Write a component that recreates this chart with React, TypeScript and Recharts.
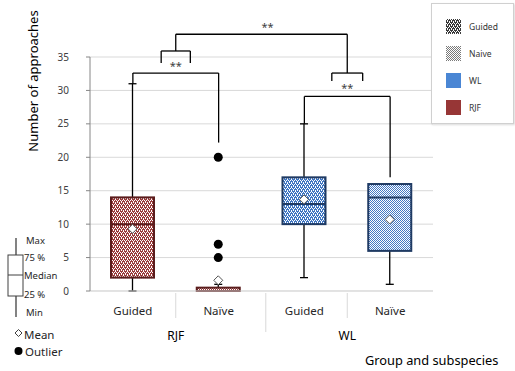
import React from "react";
import {
  ComposedChart,
  Bar,
  XAxis,
  YAxis,
  CartesianGrid,
  ReferenceLine,
  ReferenceDot,
} from "recharts";

// box plot statistics per group (RJF Guided, RJF Naive, WL Guided, WL Naive)
const categories = ["Guided", "Naïve", "Guided", "Naïve"];
const subspecies = ["RJF", "RJF", "WL", "WL"];
const mins = [0, 0, 2, 1];
const q1s = [2, 0, 10, 6];
const medians = [10, 0, 13, 14];
const q3s = [14, 0.5, 17, 16];
const maxs = [31, 1, 25, 16];
const means = [9.3, 1.6, 13.7, 10.7];
const outliers = [[], [20, 7, 5], [], []];
const yTicks = [0, 5, 10, 15, 20, 25, 30, 35];
const groupTicks = [1, 2.05, 3];
const groupLabels: Record<number, string> = { 1: "RJF", 3: "WL" };

// significance brackets (x on the 0..4 group axis, y in approaches)
const brackets = [
  [0.5, 31, 0.5, 32.6], [0.5, 32.6, 1.5, 32.6], [1.5, 32.6, 1.5, 22.2],
  [2.5, 25, 2.5, 29.1], [2.5, 29.1, 3.5, 29.1], [3.5, 29.1, 3.5, 17],
  [0.83, 34.1, 0.83, 35.9], [0.83, 35.9, 1.17, 35.9], [1.17, 35.9, 1.17, 34.1],
  [2.82, 31.4, 2.82, 32.6], [2.82, 32.6, 3.18, 32.6], [3.18, 32.6, 3.18, 31.4],
  [1, 35.9, 1, 38.4], [1, 38.4, 3, 38.4], [3, 38.4, 3, 32.6],
];
const stars = [[1, 33.6], [3, 30.3], [2.07, 39.4]];

const data = categories.map((c, i) => ({
  key: subspecies[i] + " " + c,
  label: c,
  pos: i + 0.5,
  min: mins[i],
  q1: q1s[i],
  median: medians[i],
  q3: q3s[i],
  max: maxs[i],
  mean: means[i],
  outliers: outliers[i],
  fill: (subspecies[i] === "RJF" ? "rjf" : "wl") + (c === "Guided" ? "G" : "N"),
  stroke: subspecies[i] === "RJF" ? "#5a1c1c" : "#1f3a63",
}));

const labelByKey: Record<string, string> = {};
data.forEach((d) => (labelByKey[d.key] = d.label));

function BoxShape(props: any) {
  const { x, y, width, height, payload } = props;
  const top = Math.min(y, y + height);
  const bottom = Math.max(y, y + height);
  const span = payload.max - payload.min;
  const py = (v: number) => bottom - ((v - payload.min) / span) * (bottom - top);
  const cx = x + width / 2;
  const m = py(payload.mean);
  return (
    <g>
      <line x1={cx} x2={cx} y1={py(payload.max)} y2={py(payload.q3)} stroke="#000" strokeWidth={1.3} />
      <line x1={cx} x2={cx} y1={py(payload.q1)} y2={py(payload.min)} stroke="#000" strokeWidth={1.3} />
      <line x1={cx - 4} x2={cx + 4} y1={py(payload.max)} y2={py(payload.max)} stroke="#000" strokeWidth={1.3} />
      <line x1={cx - 4} x2={cx + 4} y1={py(payload.min)} y2={py(payload.min)} stroke="#000" strokeWidth={1.3} />
      <rect
        x={x}
        y={py(payload.q3)}
        width={width}
        height={py(payload.q1) - py(payload.q3)}
        fill={`url(#${payload.fill})`}
        stroke={payload.stroke}
        strokeWidth={2}
      />
      <line x1={x} x2={x + width} y1={py(payload.median)} y2={py(payload.median)} stroke={payload.stroke} strokeWidth={2} />
      <path d={`M${cx},${m - 4.5} L${cx + 4.5},${m} L${cx},${m + 4.5} L${cx - 4.5},${m} Z`} fill="#fff" stroke="#555" strokeWidth={1} />
      {payload.outliers.map((o: number, i: number) => (
        <circle key={i} cx={cx} cy={py(o)} r={4.5} fill="#000" />
      ))}
    </g>
  );
}

function CategoryTick(props: any) {
  const { x, y, payload } = props;
  return (
    <text x={x} y={y + 19.5} textAnchor="middle" dominantBaseline="central" fontSize={11.5} fill="#262626">
      {labelByKey[payload.value]}
    </text>
  );
}

function GroupTick(props: any) {
  const { x, y, payload } = props;
  const v = payload.value;
  if (!groupLabels[v]) {
    return <line x1={x} x2={x} y1={y - 28} y2={y + 11} stroke="#d9d9d9" />;
  }
  return (
    <g>
      <line x1={x} x2={x} y1={y - 28} y2={y - 3} stroke="#d9d9d9" />
      <text x={x} y={y + 14.5} textAnchor="middle" dominantBaseline="central" fontSize={12} fill="#000">
        {groupLabels[v]}
      </text>
    </g>
  );
}

function Checker({ id, color, light }: { id: string; color: string; light: boolean }) {
  return light ? (
    <pattern id={id} width={2} height={2} patternUnits="userSpaceOnUse">
      <rect width={2} height={2} fill="#fff" />
      <rect x={0} y={0} width={1} height={1} fill={color} />
      <rect x={1} y={1} width={1} height={1} fill={color} />
    </pattern>
  ) : (
    <pattern id={id} width={4} height={4} patternUnits="userSpaceOnUse">
      <rect width={4} height={4} fill={color} />
      <rect x={0} y={0} width={1} height={1} fill="#fff" />
      <rect x={2} y={0} width={1} height={1} fill="#fff" />
      <rect x={1} y={2} width={1} height={1} fill="#fff" />
      <rect x={3} y={2} width={1} height={1} fill="#fff" />
      <rect x={1} y={1} width={1} height={1} fill="#fff" />
      <rect x={3} y={3} width={1} height={1} fill="#fff" />
    </pattern>
  );
}

const font = "'Noto Sans', sans-serif";

export default function App() {
  return (
    <div style={{ position: "absolute", left: 0, top: 0, width: 515, height: 371, background: "#fff", fontFamily: font }}>
      <svg width={0} height={0} style={{ position: "absolute" }}>
        <defs>
          <Checker id="rjfG" color="#9a3c3c" light={false} />
          <Checker id="rjfN" color="#9a3c3c" light={true} />
          <Checker id="wlG" color="#3f76c2" light={false} />
          <Checker id="wlN" color="#4479c4" light={true} />
          <Checker id="legG" color="#3a3a3a" light={false} />
          <Checker id="legN" color="#7a7a7a" light={true} />
        </defs>
      </svg>

      <ComposedChart
        width={515}
        height={371}
        data={data}
        margin={{ top: 57, right: 82, bottom: 20, left: 30 }}
        style={{ fontFamily: font }}
      >
        <CartesianGrid vertical={false} stroke="#d9d9d9" />
        <XAxis
          xAxisId="cat"
          dataKey="key"
          type="category"
          height={30}
          axisLine={{ stroke: "#d9d9d9" }}
          tickLine={false}
          tickSize={0}
          tickMargin={0}
          tick={<CategoryTick />}
          interval={0}
        />
        <XAxis
          xAxisId="grp"
          dataKey="pos"
          type="number"
          domain={[0, 4]}
          allowDataOverflow
          ticks={groupTicks}
          height={30}
          axisLine={false}
          tickLine={false}
          tickSize={0}
          tickMargin={0}
          tick={<GroupTick />}
          interval={0}
        />
        <YAxis
          domain={[0, 35]}
          ticks={yTicks}
          width={60}
          axisLine={{ stroke: "#868686" }}
          tickLine={{ stroke: "#868686" }}
          tickSize={4}
          tickMargin={17}
          tick={{ fontSize: 10, fill: "#404040" }}
          interval={0}
        />
        <Bar
          xAxisId="cat"
          dataKey={(d: any) => [d.min, d.max]}
          barSize={43}
          shape={<BoxShape />}
          isAnimationActive={false}
        />
        {brackets.map((b, i) => (
          <ReferenceLine
            key={i}
            xAxisId="grp"
            segment={[{ x: b[0], y: b[1] }, { x: b[2], y: b[3] }]}
            stroke="#000"
            strokeWidth={1.3}
            ifOverflow="visible"
          />
        ))}
        {stars.map((s, i) => (
          <ReferenceDot
            key={i}
            xAxisId="grp"
            x={s[0]}
            y={s[1]}
            r={1}
            fill="none"
            stroke="none"
            ifOverflow="visible"
            label={{ value: "**", position: "center", fontSize: 11, fill: "#404040" }}
          />
        ))}
      </ComposedChart>

      <div
        style={{
          position: "absolute",
          left: 33,
          top: 81,
          transform: "translate(-50%, -50%) rotate(-90deg)",
          whiteSpace: "nowrap",
          fontSize: 13,
          color: "#000",
        }}
      >
        Number of approaches
      </div>

      <div
        style={{
          position: "absolute",
          left: 365,
          top: 351,
          fontSize: 12.8,
          color: "#000",
          whiteSpace: "nowrap",
        }}
      >
        Group and subspecies
      </div>

      <div
        style={{
          position: "absolute",
          left: 431,
          top: 3,
          width: 81,
          height: 119,
          background: "#fff",
          border: "1px solid #d0d0d0",
          boxShadow: "1px 1px 2px rgba(0,0,0,0.15)",
        }}
      >
        {[
          { fill: "url(#legG)", label: "Guided" },
          { fill: "url(#legN)", label: "Naive" },
          { fill: "#4a86d4", label: "WL" },
          { fill: "#973636", label: "RJF" },
        ].map((it, i) => (
          <div key={i} style={{ position: "absolute", left: 14, top: 15 + i * 27, height: 15, display: "flex", alignItems: "center" }}>
            <svg width={15} height={15}>
              <rect width={15} height={15} fill={it.fill} />
            </svg>
            <span style={{ marginLeft: 8, fontSize: 8.5, color: "#333" }}>{it.label}</span>
          </div>
        ))}
      </div>

      <svg width={90} height={146} style={{ position: "absolute", left: 0, top: 225 }}>
        <line x1={16} x2={16} y1={13} y2={92} stroke="#404040" strokeWidth={1.3} />
        <rect x={8} y={30} width={15} height={41} fill="#fff" stroke="#404040" strokeWidth={1} />
        <line x1={8} x2={23} y1={50} y2={50} stroke="#404040" strokeWidth={1} />
        <g fontSize={9.5} fill="#262626">
          <text x={26} y={15} dominantBaseline="central">Max</text>
          <text x={24} y={32.5} dominantBaseline="central">75 %</text>
          <text x={24} y={50.5} dominantBaseline="central">Median</text>
          <text x={24} y={69.5} dominantBaseline="central">25 %</text>
          <text x={26} y={87.5} dominantBaseline="central">Min</text>
        </g>
        <path d="M18.5,104.5 L22,108 L18.5,111.5 L15,108 Z" fill="#fff" stroke="#404040" strokeWidth={1} />
        <text x={24} y={109} dominantBaseline="central" fontSize={11.5} fill="#262626">Mean</text>
        <circle cx={18.5} cy={126} r={4} fill="#000" />
        <text x={25} y={126} dominantBaseline="central" fontSize={11.5} fill="#262626">Outlier</text>
      </svg>
    </div>
  );
}
